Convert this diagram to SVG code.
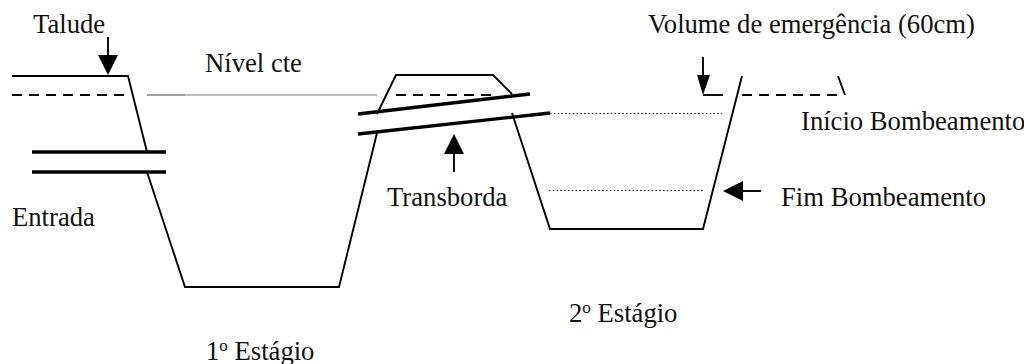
<svg xmlns="http://www.w3.org/2000/svg" width="1024" height="364" viewBox="0 0 1024 364">
<style>
text{font-family:"Liberation Serif","Times New Roman",serif;font-size:26.67px;fill:#111}
.l{fill:none;stroke:#000;stroke-width:1.9}
.p{fill:none;stroke:#000;stroke-width:3.4}
.d{fill:none;stroke:#000;stroke-width:1.8;stroke-dasharray:10 7}
.o{fill:none;stroke:#000;stroke-width:1;stroke-dasharray:1.5 2.3}
.g{fill:none;stroke:#808080;stroke-width:1}
.h{fill:#000;stroke:none}
</style>
<g id="profile">
<path class="l" d="M12 76H128L147 152M147 172L185 287H339L377 133M377 114L396 75H493L512 94M512 113L550 229H703L742 76"/>
<path class="l" d="M838 76L845 95"/>
</g>
<g id="levels">
<path class="d" d="M12 95H128"/>
<path class="g" d="M147 95H377"/>
<path class="g" d="M147 95H185" stroke-width="2"/>
<path class="d" d="M396 95H493"/>
<path class="l" d="M703 95H723"/>
<path class="d" d="M742 95H838"/>
<path class="o" d="M550 113.500H722"/>
<path class="o" d="M549 190.500H703"/>
</g>
<g id="pipes">
<path class="p" d="M32 152H166M32 172H166"/>
<path class="p" d="M358 114L530 94M358 134L550 113"/>
</g>
<g id="connectors">
<path class="l" d="M108 37V57"/><polygon class="h" points="98,55 118,55 108,75"/>
<path class="l" d="M703 57V77"/><polygon class="h" points="697,75 710,75 703,95"/>
<path class="l" d="M454 172V152"/><polygon class="h" points="444,154 464,154 454,134"/>
<path class="l" d="M761 191H741"/><polygon class="h" points="743,181 743,201 723,191"/>
</g>
<g id="labels">
<text x="33" y="33">Talude</text>
<text x="205" y="72">Nível cte</text>
<text x="648" y="33">Volume de emergência (60cm)</text>
<text x="801" y="130">Início Bombeamento</text>
<text x="781" y="206">Fim Bombeamento</text>
<text x="387" y="206">Transborda</text>
<text x="12" y="226">Entrada</text>
<text x="569" y="322">2<tspan font-size="17" dy="-9">o</tspan><tspan dy="9"> Estágio</tspan></text>
<text x="206" y="360">1<tspan font-size="17" dy="-9">o</tspan><tspan dy="9"> Estágio</tspan></text>
</g>
</svg>
